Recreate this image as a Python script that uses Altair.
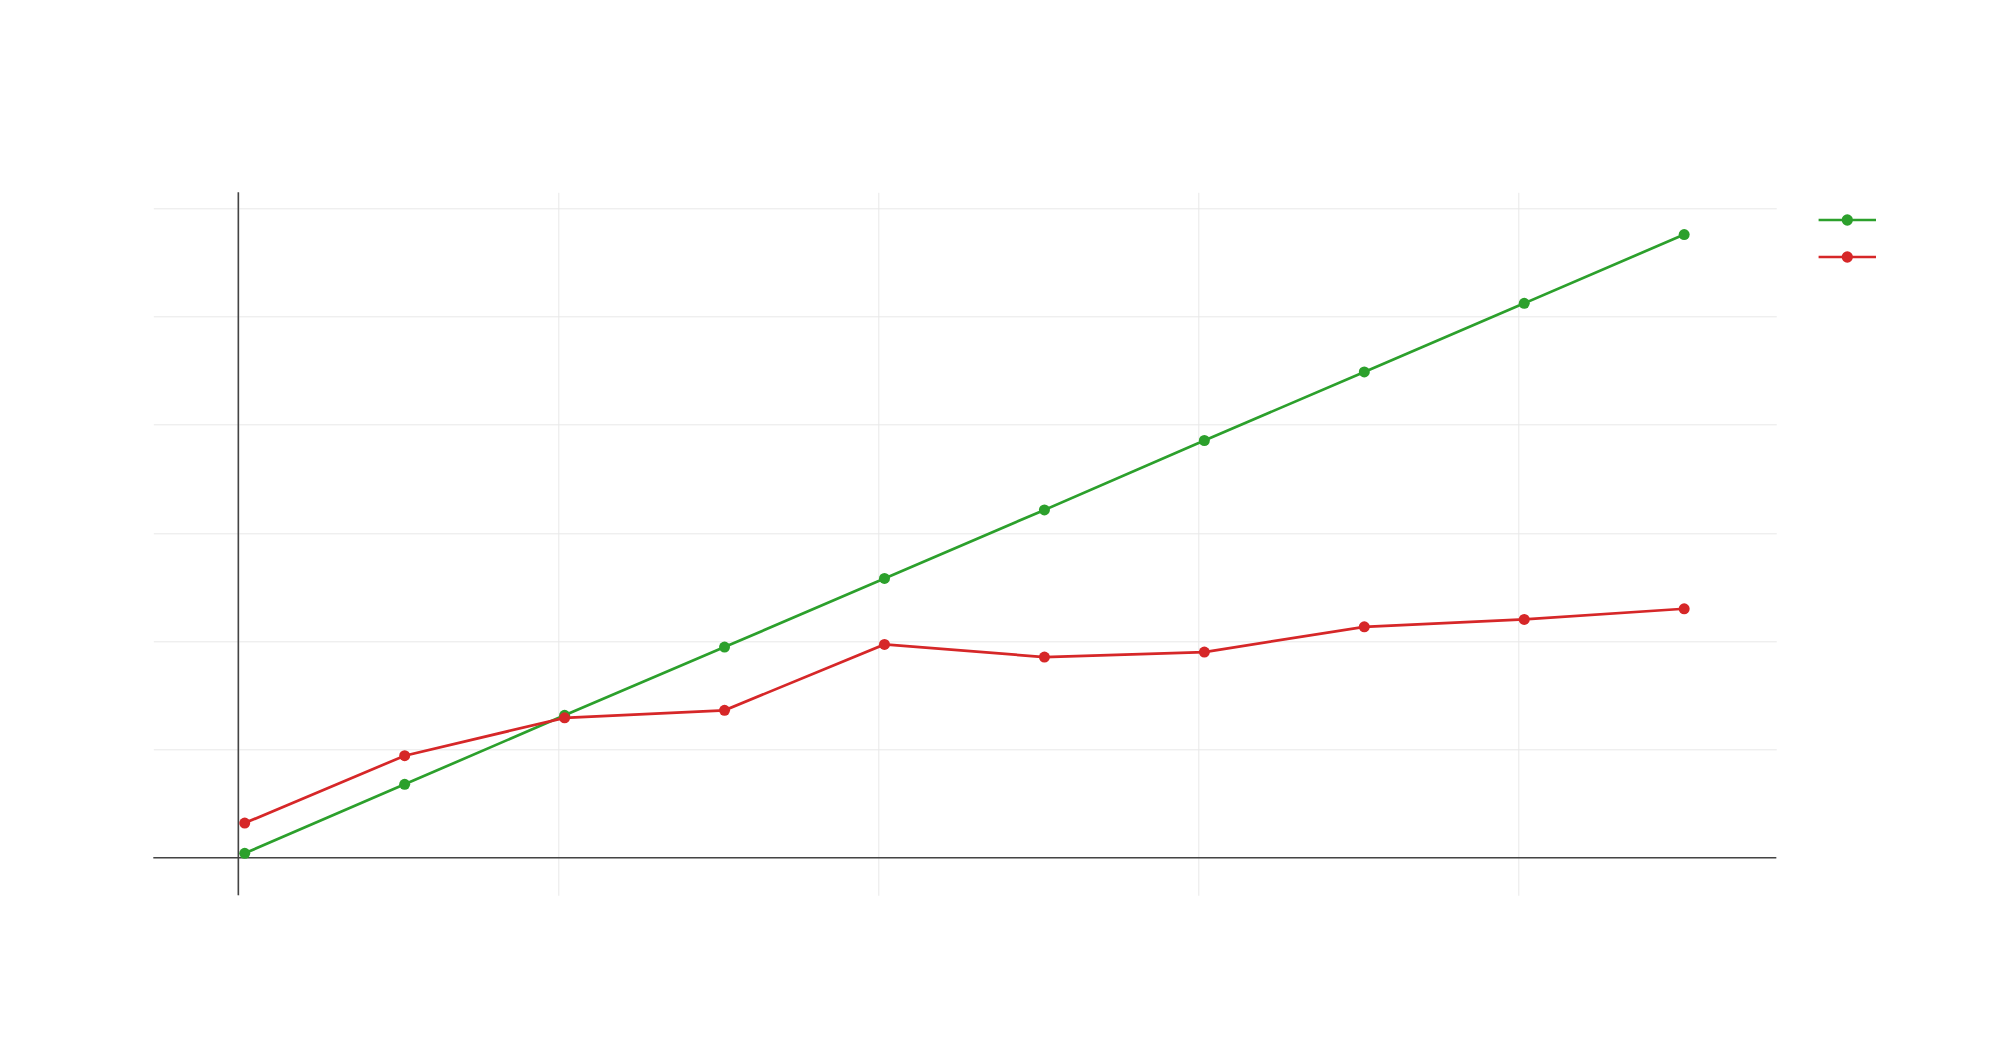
import altair as alt
import pandas as pd

# Data
x_vals = [0.2, 5.2, 10.2, 15.2, 20.2, 25.2, 30.2, 35.2, 40.2, 45.2]
green_vals = [0.41, 6.78, 13.15, 19.45, 25.79, 32.12, 38.53, 44.86, 51.2, 57.55]
red_vals = [3.2, 9.42, 12.92, 13.61, 19.7, 18.53, 18.99, 21.32, 22.01, 22.99]
series_names = ["trace 0", "trace 1"]
series_colors = ["#2ca02c", "#d62728"]
x_ticks = [0, 10, 20, 30, 40]
y_ticks = [0, 10, 20, 30, 40, 50, 60]
x_domain = [-2.658, 48.08]
y_domain = [-3.47, 61.45]

rows = []
for x, g, r in zip(x_vals, green_vals, red_vals):
    rows.append({"x": x, "y": g, "series": series_names[0]})
    rows.append({"x": x, "y": r, "series": series_names[1]})
df = pd.DataFrame(rows)

zero_df = pd.DataFrame({"zero": [0]})

xscale = alt.Scale(domain=x_domain, nice=False, zero=False)
yscale = alt.Scale(domain=y_domain, nice=False, zero=False)


def ring(r):
    return f"M{r},0 A{r},{r} 0 1,1 -{r},0 A{r},{r} 0 1,1 {r},0 Z "


legend_path = "M-2.87,0 L2.87,0 " + ring(0.435) + ring(0.26) + ring(0.09)

color = alt.Color(
    "series:N",
    scale=alt.Scale(domain=series_names, range=series_colors),
    legend=alt.Legend(
        title=None,
        orient="none",
        legendX=1682.5,
        legendY=16.2,
        padding=0,
        symbolType=legend_path,
        symbolSize=400,
        symbolStrokeWidth=2.6,
        symbolOpacity=1,
        rowPadding=15,
        labelExpr="''",
    ),
)

base = alt.Chart(df).encode(
    x=alt.X("x:Q", scale=xscale,
            axis=alt.Axis(values=x_ticks, grid=True, gridColor="#e8e8e8", gridWidth=1,
                          labels=False, ticks=False, domain=False, title=None)),
    y=alt.Y("y:Q", scale=yscale,
            axis=alt.Axis(values=y_ticks, grid=True, gridColor="#e8e8e8", gridWidth=1,
                          labels=False, ticks=False, domain=False, title=None)),
    color=color,
)

lines = base.mark_line(strokeWidth=2.7)
points = base.mark_point(filled=True, size=121, opacity=1)

vzero = alt.Chart(zero_df).mark_rule(color="#444444", strokeWidth=1.6).encode(
    x=alt.X("zero:Q", scale=xscale)
)
hzero = alt.Chart(zero_df).mark_rule(color="#444444", strokeWidth=1.6).encode(
    y=alt.Y("zero:Q", scale=yscale)
)

chart = alt.layer(vzero, hzero, lines, points).properties(
    width=1623,
    height=703,
    autosize=alt.AutoSizeParams(type="none"),
    padding={"left": 145.3, "top": 184.3, "right": 210, "bottom": 130},
    background="white",
).configure_view(stroke=None)

chart.save("out.html", embed_options={"renderer": "svg", "actions": False})
